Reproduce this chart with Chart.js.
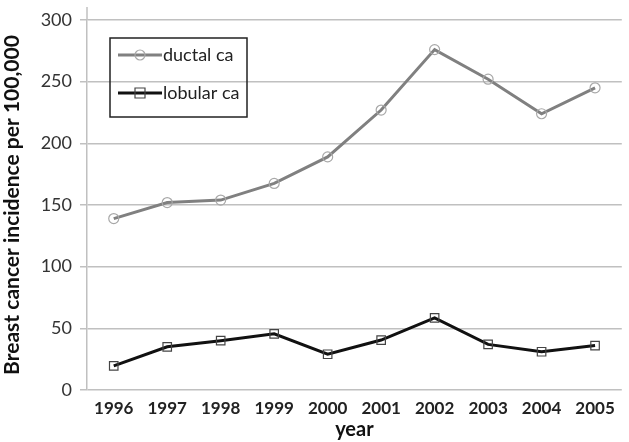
<!DOCTYPE html>
<html><head><meta charset="utf-8">
<script src="https://cdn.jsdelivr.net/npm/chart.js@4/dist/chart.umd.min.js"></script>
<style>html,body{margin:0;padding:0;background:#fff}#wrap{width:629px;height:442px;position:relative}</style>
</head><body><div id="wrap"><canvas id="c" width="629" height="442"></canvas></div>
<script>
const years = ["1996","1997","1998","1999","2000","2001","2002","2003","2004","2005"];
const ductal = [139,152,154,167.5,189,227,276,252,224,245];
const lobular = [19.5,35,40,45.5,29,40.5,58.5,37,31,36];
const yTicks = [0,50,100,150,200,250,300];

const legendPlugin = {
  id:'boxLegend',
  afterDraw(chart){
    const ctx = chart.ctx;
    ctx.save();
    const x=110,y=38,w=137,h=79;
    ctx.strokeStyle='#222';ctx.lineWidth=1.5;ctx.strokeRect(x,y,w,h);
    chart.data.datasets.forEach((ds,i)=>{
      const cy = y+17+i*38;
      ctx.strokeStyle=ds.borderColor;ctx.lineWidth=3;
      ctx.beginPath();ctx.moveTo(118,cy);ctx.lineTo(162,cy);ctx.stroke();
      ctx.strokeStyle=ds.pointBorderColor;ctx.lineWidth=1.2;
      ctx.beginPath();
      if(ds.pointStyle==='rect'){ctx.rect(135,cy-5,10,10);}else{ctx.arc(140,cy,5,0,Math.PI*2);}
      ctx.stroke();
      ctx.fillStyle='#222';ctx.font='18px Lato';ctx.textBaseline='middle';ctx.textAlign='left';
      ctx.fillText(ds.label,163,cy);
    });
    ctx.restore();
  }
};

const axisExtend = {
  id:'axisExtend',
  beforeDatasetsDraw(chart){
    const ctx=chart.ctx, a=chart.chartArea;
    ctx.save();ctx.strokeStyle='#c0c0c0';ctx.lineWidth=1.5;
    ctx.beginPath();ctx.moveTo(a.left,a.top);ctx.lineTo(a.left,a.top-13);ctx.stroke();
    ctx.restore();
  }
};

new Chart(document.getElementById('c'),{
  type:'line',
  data:{labels:years,datasets:[
    {label:'ductal ca',data:ductal,borderColor:'#808080',borderWidth:3,pointStyle:'circle',pointRadius:5,pointBorderColor:'#a8a8a8',pointBackgroundColor:'rgba(255,255,255,0)',pointBorderWidth:1.2,tension:0},
    {label:'lobular ca',data:lobular,borderColor:'#111',borderWidth:3,pointStyle:'rect',pointRadius:6,pointBorderColor:'#444',pointBackgroundColor:'rgba(255,255,255,0)',pointBorderWidth:1.2,tension:0}
  ]},
  options:{
    responsive:false,animation:false,
    layout:{padding:{top:20,right:0,left:0,bottom:0}},
    plugins:{legend:{display:false},tooltip:{enabled:false}},
    scales:{
      x:{offset:true,
        grid:{display:false,drawTicks:false},
        border:{display:false},
        ticks:{color:'#222',font:{family:'Lato',size:17,weight:'bold'},padding:8,maxRotation:0},
        title:{display:true,text:'year',color:'#111',font:{family:'Lato',size:20,weight:'bold'},padding:{top:0,bottom:0}},
        afterFit(s){s.height=52;}
      },
      y:{min:0,max:300,
        afterBuildTicks(s){s.ticks=yTicks.map(v=>({value:v}));},
        grid:{color:'#c0c0c0',lineWidth:1.5,tickLength:7,tickColor:'#c0c0c0'},
        border:{display:true,color:'#c0c0c0',width:1.5},
        ticks:{color:'#333',font:{family:'Lato',size:18},padding:8},
        title:{display:true,text:'Breast cancer incidence per 100,000',color:'#111',font:{family:'Lato',size:21,weight:'bold'},padding:{top:0,bottom:2}},
        afterFit(s){s.width=87;}
      }
    }
  },
  plugins:[legendPlugin,axisExtend]
});
</script></body></html>
